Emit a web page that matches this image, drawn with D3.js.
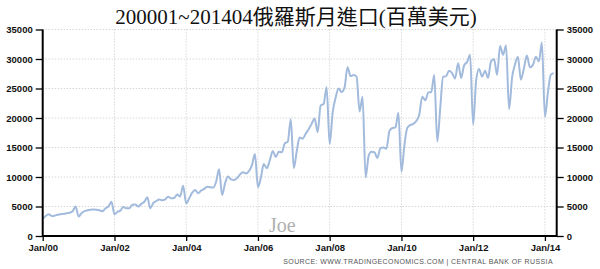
<!DOCTYPE html>
<html><head><meta charset="utf-8">
<script src="https://cdn.jsdelivr.net/npm/d3@7"></script>
<style>
html,body{margin:0;padding:0;background:#fff;}
svg{display:block;}
</style></head>
<body>
<svg id="c" width="600" height="269"></svg>
<script>
const title = "200001~201404俄羅斯月進口(百萬美元)";
const startYear = 2000;
const yearValues = [
  [2900, 3400, 3700, 3400, 3450, 3600, 3700, 3750, 3850, 3950, 4200, 5000],
  [3300, 3900, 4200, 4350, 4450, 4500, 4450, 4350, 4200, 4700, 5000, 5800],
  [3700, 4100, 4300, 4900, 4700, 4700, 5300, 5350, 5000, 5450, 5800, 6550],
  [4700, 5600, 5900, 6200, 6050, 6200, 6650, 6400, 6450, 7050, 6700, 8500],
  [5500, 6400, 7300, 7800, 7250, 7700, 7950, 8350, 8250, 8200, 9200, 11300],
  [6950, 9000, 10100, 9600, 9500, 9800, 10400, 10800, 10600, 11000, 12000, 13900],
  [8250, 10000, 12200, 11500, 12800, 14400, 13400, 14300, 14200, 15700, 16000, 19800],
  [11500, 14500, 16700, 16500, 17300, 18100, 19000, 19900, 17600, 22100, 22400, 25200],
  [15600, 21000, 23400, 25000, 24400, 25200, 28600, 27100, 27300, 27000, 21100, 23600],
  [9950, 13600, 14300, 14200, 13200, 14900, 15000, 14800, 17800, 18300, 18400, 20900],
  [10900, 15500, 18300, 18800, 19000, 19500, 20500, 23600, 23000, 24300, 24400, 27300],
  [16000, 21900, 27000, 27100, 28000, 27600, 26700, 29300, 26800, 28900, 29500, 30700],
  [18900, 26400, 28300, 27000, 28000, 26800, 29600, 30000, 27300, 32200, 30700, 32300],
  [21500, 26900, 29000, 30400, 26500, 28400, 30600, 28600, 29000, 30400, 29600, 32800],
  [20200, 24400, 27300, 27600]
];
const yTicks = [0, 5000, 10000, 15000, 20000, 25000, 30000, 35000];
const xTickYears = [2000, 2002, 2004, 2006, 2008, 2010, 2012, 2014];
const sourceText = "SOURCE: WWW.TRADINGECONOMICS.COM | CENTRAL BANK OF RUSSIA";
const watermark = "Joe";

const data = [];
yearValues.forEach((vals, yi) => vals.forEach((v, mi) => data.push({date: new Date(startYear + yi, mi, 1), value: v})));

const svg = d3.select("#c");
const L = 42.7, R = 556.7, T = 29.5, B = 236;
const x = d3.scaleTime().domain([new Date(2000,0,1), new Date(2014,4,1)]).range([L, R]);
const y = d3.scaleLinear().domain([0, 35000]).range([B, T]);

// grid
const g = svg.append("g");
g.selectAll("line.h").data(yTicks.filter(d => d > 0)).join("line")
  .attr("x1", L).attr("x2", R).attr("y1", d => y(d)).attr("y2", d => y(d))
  .attr("stroke", "#c4c4c4").attr("stroke-width", 1).attr("stroke-dasharray", "1,2");
g.selectAll("line.v").data(xTickYears.filter(d => d > 2000)).join("line")
  .attr("x1", d => x(new Date(d,0,1))).attr("x2", d => x(new Date(d,0,1))).attr("y1", T).attr("y2", B)
  .attr("stroke", "#c4c4c4").attr("stroke-width", 1).attr("stroke-dasharray", "1,2");

// line
const line = d3.line().x(d => x(d.date)).y(d => y(d.value)).curve(d3.curveMonotoneX);
svg.append("path").datum(data).attr("d", line)
  .attr("fill", "none").attr("stroke", "#a2bbdd").attr("stroke-width", 2).attr("stroke-linejoin", "round");

// axes
const fmt = d => String(d);
const styleAxis = (sel) => {
  sel.select(".domain").remove();
  sel.selectAll(".tick line").attr("stroke", "#000").attr("stroke-width", 1.3);
  sel.selectAll(".tick text").attr("fill", "#111").style("font-family", "'Liberation Sans', Arial, sans-serif")
    .style("font-size", "9.5px").style("font-weight", "bold");
};
const ya = svg.append("g").attr("transform", `translate(${L},0)`)
  .call(d3.axisLeft(y).tickValues(yTicks).tickFormat(fmt).tickSize(7).tickPadding(3));
styleAxis(ya);
const yb = svg.append("g").attr("transform", `translate(${R},0)`)
  .call(d3.axisRight(y).tickValues(yTicks).tickFormat(fmt).tickSize(7).tickPadding(3));
styleAxis(yb);
const xa = svg.append("g").attr("transform", `translate(0,${B})`)
  .call(d3.axisBottom(x).tickValues(xTickYears.map(v => new Date(v,0,1))).tickFormat(d3.timeFormat("Jan/%y")).tickSize(5).tickPadding(3));
styleAxis(xa);

// axis lines
svg.append("line").attr("x1", L).attr("x2", L).attr("y1", T).attr("y2", B + 1).attr("stroke", "#000").attr("stroke-width", 2);
svg.append("line").attr("x1", R).attr("x2", R).attr("y1", T).attr("y2", B + 1).attr("stroke", "#000").attr("stroke-width", 2);
svg.append("line").attr("x1", L).attr("x2", R).attr("y1", B).attr("y2", B).attr("stroke", "#000").attr("stroke-width", 2);

// title
svg.append("text").attr("x", 296).attr("y", 24).attr("text-anchor", "middle")
  .style("font-family", "'Liberation Serif', 'Noto Sans CJK TC', serif").style("font-size", "21px")
  .attr("fill", "#111").text(title);

// watermark
svg.append("text").attr("x", 269).attr("y", 232).style("font-family", "'Liberation Serif', serif")
  .style("font-size", "20px").attr("fill", "#b0b0b0").text(watermark);

// source
svg.append("text").attr("x", 553).attr("y", 264).attr("text-anchor", "end")
  .style("font-family", "'Liberation Sans', Arial, sans-serif").style("font-size", "7px")
  .style("letter-spacing", "0.4px")
  .attr("fill", "#555").text(sourceText);
</script>
</body></html>
